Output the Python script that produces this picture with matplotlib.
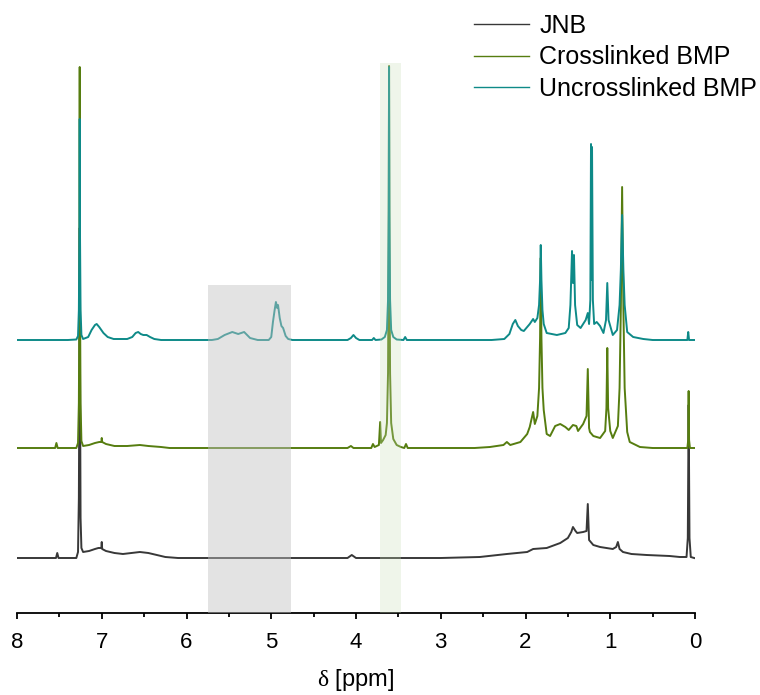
import numpy as np
import matplotlib.pyplot as plt
from matplotlib.ticker import MultipleLocator

plt.rcParams['font.family'] = ['Liberation Sans', 'DejaVu Sans']
plt.rcParams['mathtext.fontset'] = 'custom'
plt.rcParams['mathtext.rm'] = 'Liberation Serif'

# (ppm, intensity above own baseline)
jnb = [
    (8.00, 0), (7.54, 0), (7.525, 5), (7.51, 0), (7.30, 0), (7.28, 6), (7.27, 60),
    (7.263, 200), (7.26, 330), (7.257, 200), (7.25, 40), (7.24, 10), (7.22, 6),
    (7.15, 7), (7.08, 9), (7.04, 10), (7.005, 10), (7.0, 16), (6.995, 9), (6.95, 7),
    (6.85, 5), (6.75, 4), (6.65, 5), (6.55, 6), (6.45, 5), (6.35, 3), (6.25, 1),
    (6.10, 0), (4.10, 0), (4.05, 3), (4.00, 0), (3.00, 0), (2.54, 1), (2.22, 4),
    (1.98, 6), (1.91, 9), (1.75, 10), (1.59, 15), (1.50, 20), (1.46, 26), (1.44, 31),
    (1.41, 27), (1.39, 25), (1.32, 26), (1.28, 27), (1.265, 54), (1.25, 18),
    (1.20, 13), (1.12, 11), (0.97, 9), (0.93, 11), (0.91, 16), (0.89, 9), (0.85, 6),
    (0.75, 4), (0.57, 3), (0.30, 2), (0.18, 1), (0.10, 1), (0.085, 20), (0.075, 153),
    (0.065, 20), (0.05, 1), (0.01, 0),
]
crosslinked = [
    (8.00, 0), (7.55, 0), (7.535, 5), (7.52, 0), (7.30, 0), (7.28, 5), (7.27, 45),
    (7.263, 160), (7.26, 381), (7.257, 160), (7.25, 45), (7.24, 7), (7.22, 2),
    (7.15, 3), (7.08, 5), (7.03, 6), (7.005, 6), (7.0, 10), (6.995, 6), (6.95, 4),
    (6.85, 2), (6.70, 2), (6.55, 3), (6.45, 2), (6.30, 1), (6.20, 0),
    (4.10, 0), (4.06, 2), (4.03, 0), (3.82, 0), (3.80, 4), (3.78, 1), (3.73, 3),
    (3.715, 26), (3.705, 5), (3.68, 8), (3.65, 13), (3.635, 25), (3.622, 75),
    (3.614, 200), (3.61, 382), (3.606, 200), (3.598, 75), (3.585, 25), (3.56, 9),
    (3.52, 3), (3.47, 1), (3.43, 0), (3.41, 4), (3.39, 0), (2.60, 0), (2.42, 1),
    (2.26, 3), (2.22, 6), (2.18, 3), (2.06, 6), (1.98, 14), (1.95, 21), (1.91, 36),
    (1.89, 24), (1.86, 32), (1.84, 60), (1.828, 110), (1.82, 190), (1.812, 110),
    (1.80, 60), (1.785, 38), (1.75, 14), (1.71, 12), (1.65, 22), (1.59, 24),
    (1.53, 21), (1.49, 18), (1.44, 23), (1.40, 22), (1.38, 17), (1.32, 24),
    (1.28, 32), (1.265, 79), (1.25, 20), (1.24, 16), (1.20, 12), (1.12, 10),
    (1.06, 17), (1.045, 40), (1.035, 100), (1.025, 40), (1.00, 17), (0.97, 10),
    (0.91, 22), (0.89, 60), (0.875, 140), (0.86, 261), (0.845, 140), (0.83, 60),
    (0.80, 16), (0.77, 6), (0.65, 1), (0.50, 0), (0.09, 0), (0.08, 8),
    (0.075, 57), (0.07, 8), (0.06, 0), (0.01, 0),
]
uncrosslinked = [
    (8.00, 0), (7.40, 0), (7.30, 0.5), (7.28, 4), (7.27, 30), (7.263, 110),
    (7.26, 221), (7.257, 110), (7.25, 30), (7.24, 5), (7.22, 1),
    (7.16, 3), (7.12, 10), (7.08, 15), (7.06, 16), (7.03, 13), (6.98, 7), (6.93, 3),
    (6.86, 1), (6.70, 1), (6.64, 3), (6.60, 7), (6.57, 8), (6.54, 6), (6.51, 5),
    (6.47, 5), (6.43, 3), (6.38, 1), (6.30, 0),
    (5.70, 0), (5.63, 1), (5.55, 5), (5.46, 8), (5.39, 6), (5.32, 8), (5.25, 2),
    (5.16, 0), (5.03, 0), (5.00, 3), (4.98, 18), (4.96, 30), (4.945, 38), (4.93, 32),
    (4.92, 35), (4.90, 22), (4.88, 14), (4.86, 12), (4.83, 4), (4.80, 1), (4.75, 0),
    (4.10, 0), (4.06, 2), (4.03, 5), (4.00, 2), (3.96, 0), (3.81, 0), (3.79, 2),
    (3.77, 0), (3.70, 0.5), (3.66, 3), (3.635, 10), (3.622, 40), (3.614, 130),
    (3.61, 273), (3.606, 130), (3.598, 40), (3.585, 10), (3.56, 3), (3.52, 0.5),
    (3.44, 0), (3.42, 3), (3.40, 0), (2.40, 0), (2.25, 1), (2.19, 6), (2.15, 16),
    (2.12, 20), (2.09, 14), (2.05, 10), (2.02, 9), (1.98, 13), (1.95, 16),
    (1.91, 21), (1.89, 18), (1.86, 22), (1.84, 35), (1.828, 60), (1.82, 95),
    (1.812, 60), (1.80, 30), (1.785, 16), (1.75, 7), (1.63, 5), (1.53, 7),
    (1.49, 12), (1.47, 35), (1.451, 89), (1.44, 57), (1.428, 85), (1.415, 35),
    (1.39, 15), (1.35, 12), (1.29, 20), (1.265, 27), (1.25, 16), (1.235, 40),
    (1.227, 196), (1.221, 60), (1.215, 193), (1.205, 40), (1.19, 16), (1.16, 18),
    (1.12, 14), (1.08, 7), (1.05, 20), (1.035, 57), (1.02, 20), (0.97, 5),
    (0.92, 10), (0.89, 35), (0.875, 70), (0.86, 125), (0.845, 70), (0.83, 35),
    (0.80, 8), (0.73, 3), (0.61, 1), (0.50, 0),
    (0.09, 0), (0.08, 8), (0.07, 0), (0.01, 0),
]

labels = ['JNB', 'Crosslinked BMP', 'Uncrosslinked BMP']
colors = ['#383838', '#567d10', '#0e8a88']
offsets = [55, 165, 273]

gray_region = (4.77, 5.75)
green_region = (3.47, 3.72)

fig = plt.figure(figsize=(7.6, 6.95), dpi=100)
ax = fig.add_axes([17 / 760, 82 / 695, 678 / 760, 573 / 695])

for spec, lab, col, off in zip([jnb, crosslinked, uncrosslinked], labels, colors, offsets):
    x, y = np.array(spec).T
    ax.plot(x, y + off, color=col, lw=1.4, label=lab)

ax.fill_between(gray_region, 0, 328, color='#c2c2c2', alpha=0.45, lw=0, zorder=3)
ax.fill_between(green_region, 0, 550, color='#c8dcb4', alpha=0.28, lw=0, zorder=3)

ax.set_xlim(8, 0)
ax.set_ylim(0, 573)
for s in ['left', 'right', 'top']:
    ax.spines[s].set_visible(False)
ax.spines['bottom'].set_linewidth(1.3)
ax.set_yticks([])
ax.xaxis.set_major_locator(MultipleLocator(1))
ax.xaxis.set_minor_locator(MultipleLocator(0.5))
ax.tick_params(axis='x', which='major', direction='out', length=4.5, width=1.3,
               labelsize=16, pad=9)
ax.tick_params(axis='x', which='minor', direction='out', length=3, width=1.3)
ax.set_xlabel(r'$\mathrm{\delta}$ [ppm]', fontsize=17, labelpad=10)

leg = ax.legend(loc='upper right', bbox_to_anchor=(757 / 760, 681 / 695),
                bbox_transform=fig.transFigure, frameon=False, fontsize=18,
                handlelength=2.2, handletextpad=0.4, labelspacing=0.3,
                borderpad=0, borderaxespad=0)
for h in leg.get_lines():
    h.set_linewidth(1.0)

fig.savefig('out.png', dpi=100)
